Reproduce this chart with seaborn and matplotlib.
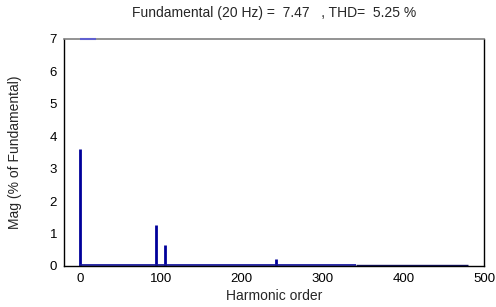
import matplotlib
matplotlib.use("Agg")
import matplotlib.pyplot as plt
import seaborn as sns

# harmonic spectrum (% of fundamental)
orders = [0, 94, 105, 242]
mags = [3.6, 1.27, 0.64, 0.22]
fundamental_hz = 20
fundamental_mag = 7.47
thd = 5.25
xticks = [0, 100, 200, 300, 400, 500]
yticks = [0, 1, 2, 3, 4, 5, 6, 7]

sns.set_style("white")
plt.rcParams['font.family'] = ['Liberation Sans', 'DejaVu Sans']

fig = plt.figure(figsize=(4.96, 3.07), dpi=100)
ax = fig.add_axes([0.129, 0.134, 0.847, 0.739])

navy = '#00009a'
ax.vlines(orders, 0, mags, colors=navy, linewidth=2)
# noise floor along the baseline and clipped fundamental at the top
ax.hlines(0.02, 0, 342, colors='#1a1aa0', linewidth=1.3)
ax.hlines(0.02, 342, 480, colors='#101060', linewidth=1.0)
ax.hlines(7, 0, 20, colors='#6060d0', linewidth=1.5, clip_on=False, zorder=5)

ax.set_xlim(-20, 500)
ax.set_ylim(0, 7)
ax.set_xticks(xticks)
ax.set_yticks(yticks)
ax.tick_params(direction='in', length=3, labelsize=9.5, colors='black', width=0.8, pad=5)
for s in ['left', 'bottom', 'right']:
    ax.spines[s].set_color('black')
    ax.spines[s].set_linewidth(1)
ax.spines['top'].set_color('#808080')
ax.spines['top'].set_linewidth(1.2)

ax.set_xlabel('Harmonic order', fontsize=10, labelpad=3)
ax.set_ylabel('Mag (% of Fundamental)', fontsize=10, labelpad=20)
ax.set_title(f'Fundamental ({fundamental_hz} Hz) =  {fundamental_mag}   , THD=  {thd} %',
             fontsize=10, pad=16)

fig.savefig('out.png', dpi=100)
